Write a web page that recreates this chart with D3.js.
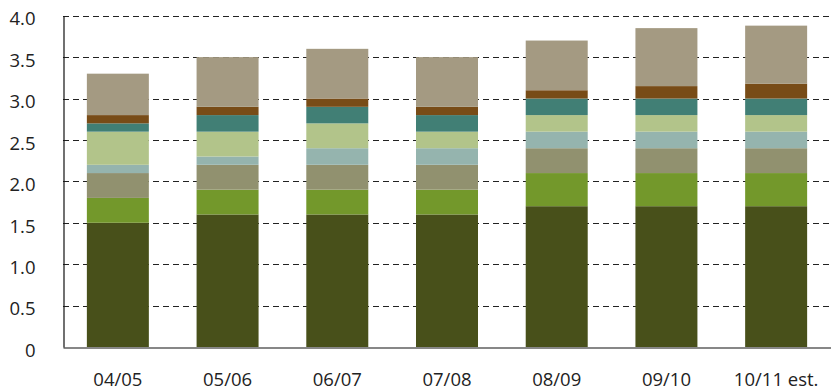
<!DOCTYPE html>
<html>
<head>
<meta charset="utf-8">
<script src="https://cdn.jsdelivr.net/npm/d3@7"></script>
<style>
  html, body { margin: 0; padding: 0; background: #fff; }
  svg { display: block; }
  text { font-family: "Open Sans", "DejaVu Sans", sans-serif; fill: #222; }
</style>
</head>
<body>
<svg id="chart" width="831" height="390"></svg>
<script>
// Categories (fiscal years) and the eight stacked components
const years = ["04/05", "05/06", "06/07", "07/08", "08/09", "09/10", "10/11 est."];
const seriesNames = ["s1", "s2", "s3", "s4", "s5", "s6", "s7", "s8"];
const s1 = [1.5, 1.6, 1.6, 1.6, 1.7, 1.7, 1.7];
const s2 = [0.3, 0.3, 0.3, 0.3, 0.4, 0.4, 0.4];
const s3 = [0.3, 0.3, 0.3, 0.3, 0.3, 0.3, 0.3];
const s4 = [0.1, 0.1, 0.2, 0.2, 0.2, 0.2, 0.2];
const s5 = [0.4, 0.3, 0.3, 0.2, 0.2, 0.2, 0.2];
const s6 = [0.1, 0.2, 0.2, 0.2, 0.2, 0.2, 0.2];
const s7 = [0.1, 0.1, 0.1, 0.1, 0.1, 0.15, 0.18];
const s8 = [0.5, 0.6, 0.6, 0.6, 0.6, 0.7, 0.7];
const colors = ["#48501a", "#73982b", "#91916f", "#95b4ae", "#b2c48a", "#417f75", "#784c17", "#a49a82"];
const yTicks = [0, 0.5, 1.0, 1.5, 2.0, 2.5, 3.0, 3.5, 4.0];

const allSeries = [s1, s2, s3, s4, s5, s6, s7, s8];
const rows = years.map((y, i) => {
  const r = { year: y };
  seriesNames.forEach((n, k) => r[n] = allSeries[k][i]);
  return r;
});

const svg = d3.select("#chart");
const mLeft = 63, mRight = 831, mTop = 15.7, mBottom = 347;
const fontSize = 18.5;

const x = d3.scaleBand().domain(years).range([mLeft, mRight]).paddingInner(0.435).paddingOuter(0.2175);
const y = d3.scaleLinear().domain([0, 4]).range([mBottom, mTop]);

// dashed horizontal gridlines
svg.append("g")
  .selectAll("line")
  .data(yTicks.filter(d => d > 0))
  .join("line")
  .attr("x1", mLeft).attr("x2", mRight)
  .attr("y1", d => Math.round(y(d)) + 0.5).attr("y2", d => Math.round(y(d)) + 0.5)
  .attr("stroke", "#222").attr("stroke-width", 1)
  .attr("stroke-dasharray", "6,4");

// stacked bars
const stack = d3.stack().keys(seriesNames)(rows);
svg.append("g")
  .selectAll("g")
  .data(stack)
  .join("g")
  .attr("fill", (d, i) => colors[i])
  .selectAll("rect")
  .data(d => d)
  .join("rect")
  .attr("x", d => x(d.data.year))
  .attr("width", x.bandwidth())
  .attr("y", d => y(d[1]))
  .attr("height", d => y(d[0]) - y(d[1]));

// y axis
const yAxis = svg.append("g")
  .attr("transform", `translate(${mLeft + 0.5},0)`)
  .call(d3.axisLeft(y).tickValues(yTicks).tickSize(0).tickPadding(28)
    .tickFormat(d => d === 0 ? "0" : d3.format(".1f")(d)));
yAxis.select(".domain").attr("stroke", "#111").attr("stroke-width", 1.2);
yAxis.selectAll("text").attr("font-size", fontSize).attr("dy", "0.5em")
  .style("font-family", '"Open Sans", sans-serif').attr("fill", "#222");

// x axis
const xAxis = svg.append("g")
  .attr("transform", `translate(0,${mBottom + 0.5})`)
  .call(d3.axisBottom(x).tickSize(0).tickPadding(25));
xAxis.select(".domain").attr("stroke", "#111").attr("stroke-width", 1.2);
xAxis.selectAll("text").attr("font-size", fontSize)
  .style("font-family", '"Open Sans", sans-serif').attr("fill", "#222");
</script>
</body>
</html>
